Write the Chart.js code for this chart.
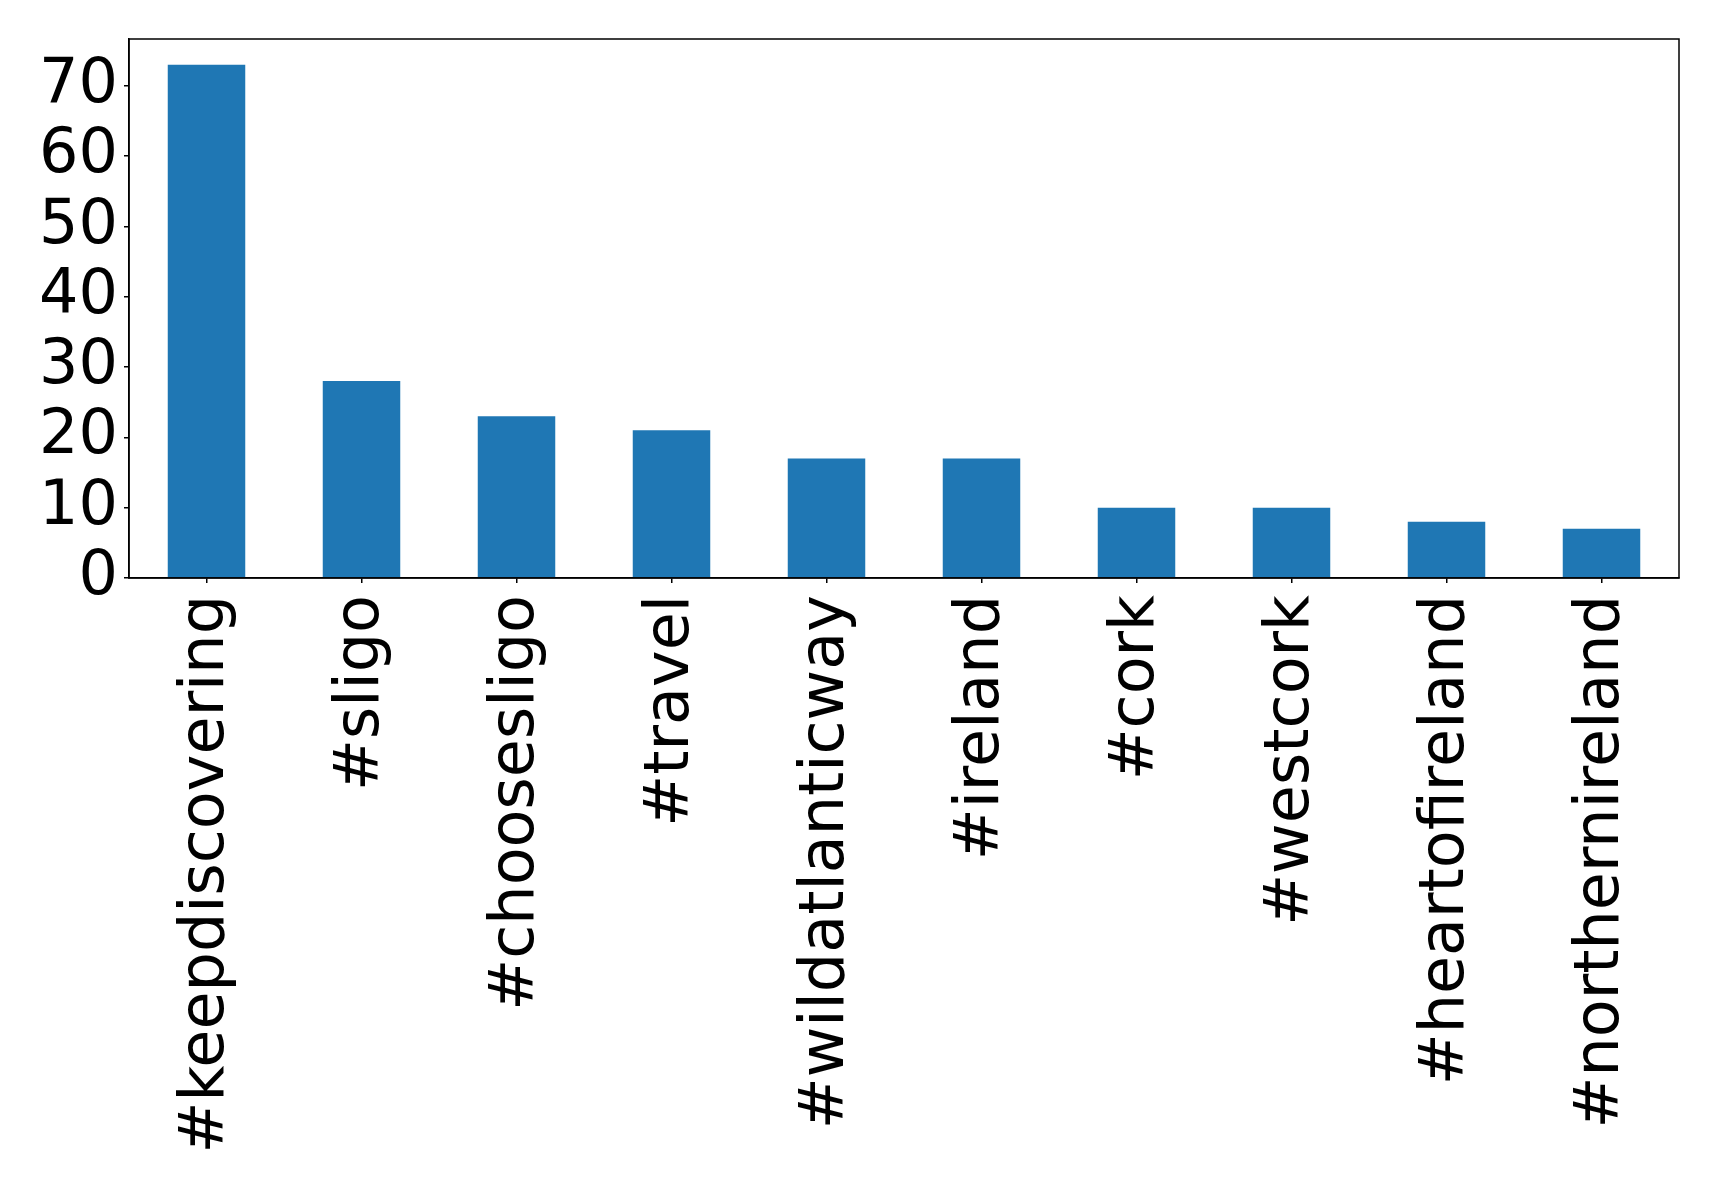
<!DOCTYPE html>
<html lang="en">
<head>
    <meta charset="UTF-8">
    <script src="https://cdn.jsdelivr.net/npm/chart.js"></script>
    <title>Hashtags</title>
    <style>
        body {
            margin: 0;
            background: #ffffff;
        }
        #wrap {
            width: 1719px;
            height: 1191px;
        }
    </style>
</head>
<body>
<div id="wrap"><canvas id="myChart"></canvas></div>
<script>
    const hashtags = ['#keepdiscovering', '#sligo', '#choosesligo', '#travel', '#wildatlanticway',
        '#ireland', '#cork', '#westcork', '#heartofireland', '#northernireland'];
    const counts = [73, 28, 23, 21, 17, 17, 10, 10, 8, 7];
    const yTicks = [0, 10, 20, 30, 40, 50, 60, 70];

    // box round the plot, like matplotlib's spines
    const frame = {
        id: 'frame',
        afterDraw(chart) {
            const a = chart.chartArea;
            const ctx = chart.ctx;
            ctx.save();
            ctx.strokeStyle = '#000';
            ctx.lineWidth = 1.5;
            ctx.strokeRect(a.left, a.top, a.right - a.left, a.bottom - a.top);
            ctx.restore();
        }
    };

    const font = {family: 'DejaVu Sans', size: 62};

    new Chart(document.getElementById('myChart'), {
        type: 'bar',
        data: {
            labels: hashtags,
            datasets: [{
                data: counts,
                backgroundColor: '#1f77b4',
                barPercentage: 0.5,
                categoryPercentage: 1.0
            }]
        },
        options: {
            responsive: true,
            maintainAspectRatio: false,
            animation: false,
            layout: {padding: {left: 0, top: 39, right: 40, bottom: 0}},
            plugins: {
                legend: {display: false},
                tooltip: {enabled: false}
            },
            scales: {
                x: {
                    grid: {offset: false, drawOnChartArea: false, drawTicks: true, tickLength: 5, color: '#000', lineWidth: 1.5},
                    border: {display: true, color: '#000', width: 1.5},
                    ticks: {color: '#000', font: font, minRotation: 90, maxRotation: 90, padding: 12, autoSkip: false},
                    afterFit(scale) {
                        scale.height = 1191 - 578;
                        scale.paddingLeft = 0;
                        scale.paddingRight = 0;
                    }
                },
                y: {
                    min: 0,
                    max: 76.65,
                    grid: {drawOnChartArea: false, drawTicks: true, tickLength: 5, color: '#000', lineWidth: 1.5},
                    border: {display: true, color: '#000', width: 1.5},
                    ticks: {color: '#000', font: font, padding: 6, autoSkip: false},
                    afterBuildTicks(scale) { scale.ticks = yTicks.map(v => ({value: v})); },
                    afterFit(scale) {
                        scale.width = 129;
                        scale.paddingTop = 0;
                        scale.paddingBottom = 0;
                    }
                }
            }
        },
        plugins: [frame]
    });
</script>
</body>
</html>
